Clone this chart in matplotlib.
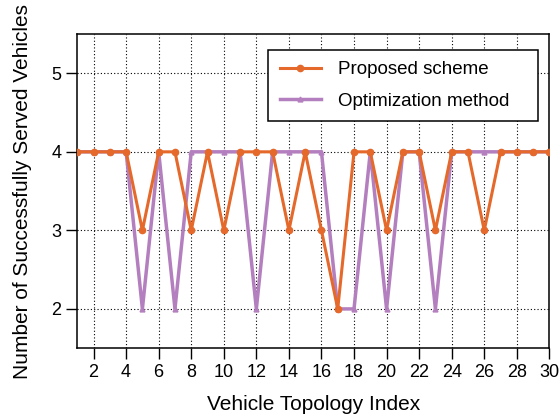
import matplotlib
matplotlib.use("Agg")
import matplotlib.pyplot as plt

plt.rcParams['font.family'] = ['Liberation Sans', 'DejaVu Sans']

# data
topology_index = list(range(1, 31))
proposed = [4, 4, 4, 4, 3, 4, 4, 3, 4, 3,
            4, 4, 4, 3, 4, 3, 2, 4, 4, 3,
            4, 4, 3, 4, 4, 3, 4, 4, 4, 4]
optimization = [4, 4, 4, 4, 2, 4, 2, 4, 4, 4,
                4, 2, 4, 4, 4, 4, 2, 2, 4, 2,
                4, 4, 2, 4, 4, 4, 4, 4, 4, 4]
x_ticks = list(range(2, 31, 2))
y_ticks = [2, 3, 4, 5]

fig = plt.figure(figsize=(5.6, 4.2), dpi=100)
ax = fig.add_axes([0.138, 0.171, 0.843, 0.748])

ax.plot(topology_index, optimization, color='#b47fbe', lw=2.5, marker='^',
        markersize=3.5, label='Optimization method', zorder=3)
ax.plot(topology_index, proposed, color='#e4692b', lw=2.2, marker='o',
        markersize=4.5, label='Proposed scheme', zorder=4)

ax.set_xlim(1, 30)
ax.set_ylim(1.5, 5.5)
ax.set_xticks(x_ticks)
ax.set_yticks(y_ticks)
ax.grid(True, color='black', linestyle=(0, (1, 2)), linewidth=0.8)
ax.tick_params(direction='out', length=8, width=1, labelsize=13)
for s in ax.spines.values():
    s.set_linewidth(1.1)

ax.set_xlabel('Vehicle Topology Index', fontsize=15, labelpad=10)
ax.set_ylabel('Number of Successfully Served Vehicles', fontsize=15, labelpad=14)

# legend box stretched to the width seen in the reference
handles, labels = ax.get_legend_handles_labels()
leg = ax.legend(handles[::-1], labels[::-1], loc='upper left', mode='expand',
                bbox_to_anchor=(0.405, 0.5, 0.570, 0.449), fontsize=13.5,
                fancybox=False, framealpha=1, edgecolor='black',
                handlelength=2.2, borderpad=0.6, borderaxespad=0,
                labelspacing=0.75, handletextpad=0.9)
leg.get_frame().set_linewidth(1.1)

fig.savefig('out.png', dpi=100)
